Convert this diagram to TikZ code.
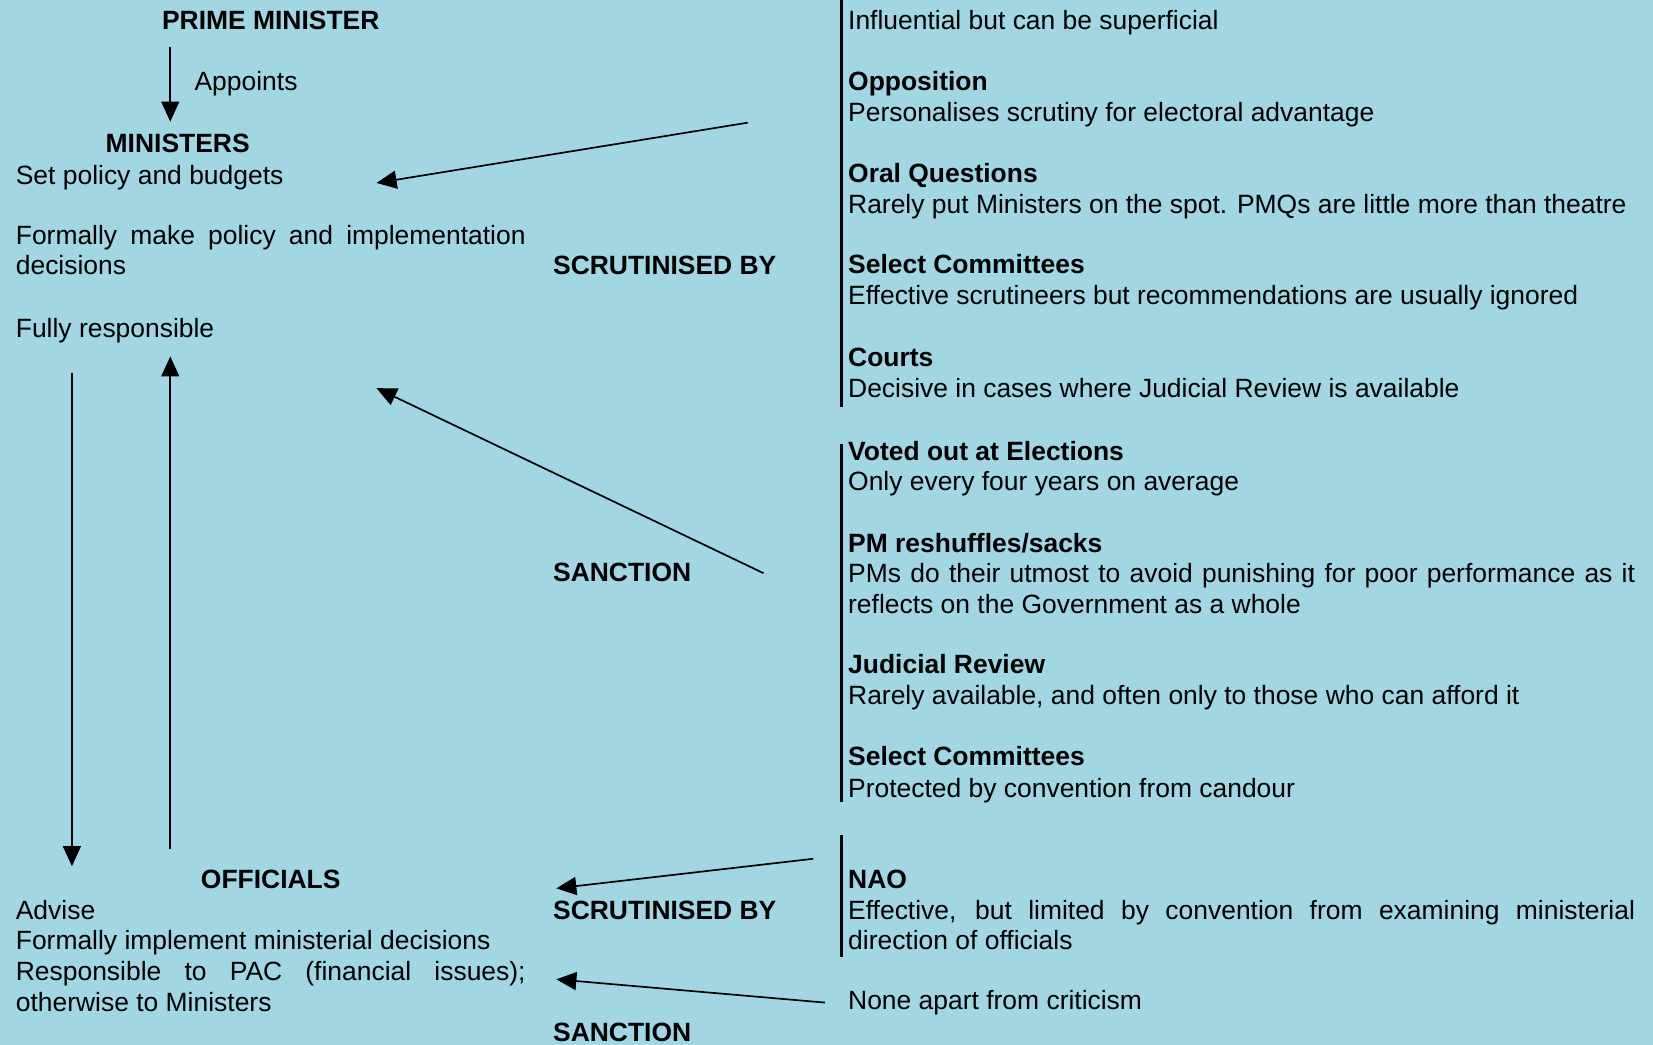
\documentclass[tikz,border=0pt]{standalone}
\usepackage{fontspec}
\setmainfont{Liberation Sans}
\usetikzlibrary{arrows.meta}
\definecolor{bg}{RGB}{161,214,226}
\hyphenpenalty=10000 \exhyphenpenalty=10000
\begin{document}
\begin{tikzpicture}[x=0.5pt,y=-0.5pt,
 body/.style={anchor=base west, inner sep=0pt, outer sep=0pt, font=\fontsize{12.5}{14.5}\selectfont},
 head/.style={body, font=\fontsize{12.5}{14.5}\selectfont\bfseries},
 para/.style={body, text width=#1, align=justify},
 arr/.style={line width=0.8pt, -{Triangle[length=9.5pt,width=8.5pt]}},
 bar/.style={line width=1.5pt}]
\fill[bg] (0,0) rectangle (1563,988);
\useasboundingbox (0,0) rectangle (1563,988);
% left column
\node[head, anchor=base] (pm) at (256,28) {PRIME MINISTER};
\node[body] (app) at (184,86) {Appoints};
\node[head, anchor=base] (min) at (168,144) {MINISTERS};
\node[body] (m1) at (15,174) {Set policy and budgets};
\node[para=241pt] (m2) at (15,231) {Formally make policy and implementation\linebreak decisions};
\node[body] (m3) at (15,319) {Fully responsible};
\node[head] (sc1) at (523,260) {SCRUTINISED BY};
\node[head] (sa1) at (523,550) {SANCTION};
\node[head, anchor=base] (off) at (256,840) {OFFICIALS};
\node[para=241pt] (o1) at (15,869) {Advise\newline Formally implement ministerial decisions\newline Responsible to PAC (financial issues);\linebreak otherwise to Ministers};
\node[head] (sc2) at (523,869) {SCRUTINISED BY};
\node[head] (sa2) at (523,985) {SANCTION};
% right column
\node[body] (r0) at (802,28) {Influential but can be superficial};
\node[head] (r1h) at (802,86) {Opposition};
\node[body] (r1) at (802,115) {Personalises scrutiny for electoral advantage};
\node[head] (r2h) at (802,173) {Oral Questions};
\node[body] (r2) at (802,202) {Rarely put Ministers on the spot. PMQs are little more than theatre};
\node[head] (r3h) at (802,259) {Select Committees};
\node[body] (r3) at (802,288) {Effective scrutineers but recommendations are usually ignored};
\node[head] (r4h) at (802,347) {Courts};
\node[body] (r4) at (802,376) {Decisive in cases where Judicial Review is available};
\node[head] (r5h) at (802,435) {Voted out at Elections};
\node[body] (r5) at (802,464) {Only every four years on average};
\node[head] (r6h) at (802,522) {PM reshuffles/sacks};
\node[para=372pt] (r6) at (802,551) {PMs do their utmost to avoid punishing for poor performance as it\linebreak reflects on the Government as a whole};
\node[head] (r7h) at (802,637) {Judicial Review};
\node[body] (r7) at (802,666) {Rarely available, and often only to those who can afford it};
\node[head] (r8h) at (802,724) {Select Committees};
\node[body] (r8) at (802,754) {Protected by convention from candour};
\node[head] (r9h) at (802,840) {NAO};
\node[para=372pt] (r9) at (802,869) {Effective, but limited by convention from examining ministerial\linebreak direction of officials};
\node[body] (r10) at (802,955) {None apart from criticism};
% bars
\draw[bar] (796,0) -- (796,385);
\draw[bar] (796,420) -- (796,758);
\draw[bar] (796,790) -- (796,905);
% arrow end points
\coordinate (p1) at (161,44);   \coordinate (p2) at (161,115);
\coordinate (s1) at (707,116);  \coordinate (t1) at (356,173);
\coordinate (s2) at (722,542);  \coordinate (t2) at (356,367);
\coordinate (d1) at (68,353);   \coordinate (d2) at (68,819);
\coordinate (u1) at (161,803);  \coordinate (u2) at (161,337);
\coordinate (s3) at (769,812);  \coordinate (t3) at (526,840);
\coordinate (s4) at (780,948);  \coordinate (t4) at (526,926);
\draw[arr] (p1) -- (p2);
\draw[arr] (s1) -- (t1);
\draw[arr] (s2) -- (t2);
\draw[arr] (d1) -- (d2);
\draw[arr] (u1) -- (u2);
\draw[arr] (s3) -- (t3);
\draw[arr] (s4) -- (t4);
\end{tikzpicture}
\end{document}
